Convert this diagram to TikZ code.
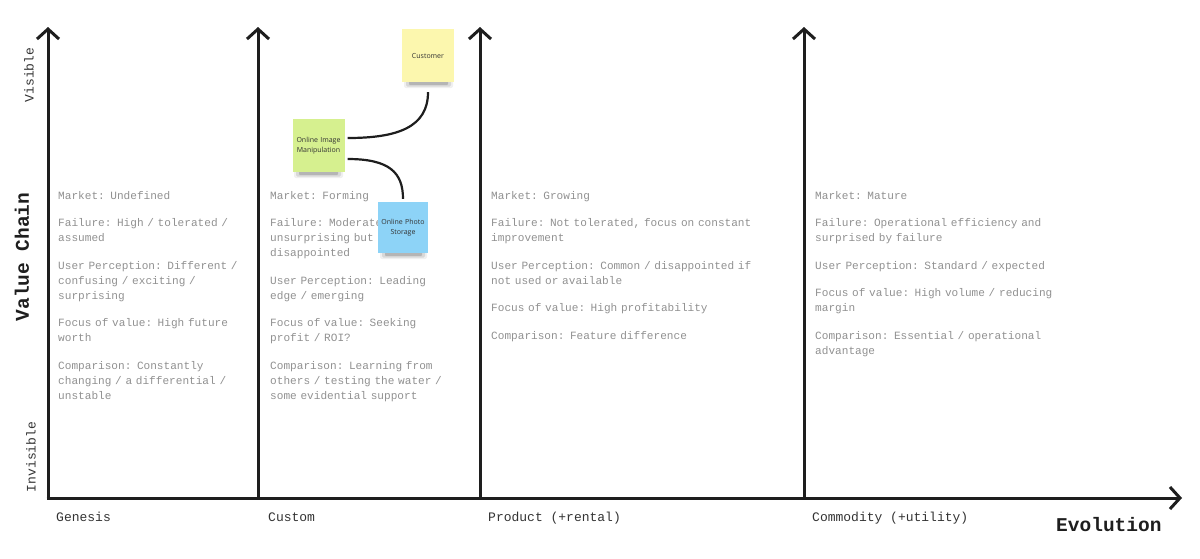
\documentclass[tikz,border=0pt]{standalone}
\usepackage{fontspec}
\setmainfont{Liberation Mono}
\newfontfamily\notefont{Open Sans}
\usetikzlibrary{arrows.meta}
\definecolor{axiscol}{HTML}{1E1E1E}
\definecolor{infocol}{HTML}{909090}
\definecolor{labcol}{HTML}{333333}
\definecolor{noteyellow}{HTML}{FCF7AE}
\definecolor{notegreen}{HTML}{D6F08F}
\definecolor{noteblue}{HTML}{8DD3F7}
\begin{document}
\begin{tikzpicture}[x=1pt,y=-1pt,
  axis/.style={line width=3pt, draw=axiscol, -{Straight Barb[length=10pt,width=22pt]}},
  info/.style={anchor=base west, inner sep=0pt, text width=330pt, align=left, text=infocol, font=\fontsize{11.1}{15}\selectfont},
  axlabel/.style={anchor=base west, inner sep=0pt, text=labcol, font=\fontsize{13}{15}\selectfont},
  sidelabel/.style={rotate=90, inner sep=0pt, text=labcol, font=\fontsize{13}{15}\selectfont},
  title/.style={inner sep=0pt, text=axiscol, font=\bfseries\fontsize{19.5}{21}\selectfont},
  sticky/.style={minimum width=52pt, minimum height=53pt, inner sep=0pt, text width=50pt, align=center, text=black!80, font=\notefont\fontsize{7}{9.5}\selectfont},
  conn/.style={line width=2.2pt, draw=axiscol},
  shadowA/.style={fill=black, opacity=0.06, rounded corners=2pt},
  shadowB/.style={fill=black, opacity=0.10, rounded corners=1.5pt},
  shadowC/.style={fill=black, opacity=0.16, rounded corners=1pt}]
\useasboundingbox (0,0) rectangle (1200,558);

% axes
\coordinate (o) at (48,498);
\coordinate (gtop) at (48,27);
\coordinate (cbot) at (258,498);
\coordinate (ctop) at (258,27);
\coordinate (pbot) at (480,498);
\coordinate (ptop) at (480,27);
\coordinate (mbot) at (804,498);
\coordinate (mtop) at (804,27);
\coordinate (xstart) at (46.5,498);
\coordinate (xend) at (1182,498);
\draw[axis] (xstart) -- (xend);
\draw[axis] (o) -- (gtop);
\draw[axis] (cbot) -- (ctop);
\draw[axis] (pbot) -- (ptop);
\draw[axis] (mbot) -- (mtop);

% axis labels
\node[sidelabel] (vis) at (29,75) {Visible};
\node[sidelabel] (invis) at (31,457) {Invisible};
\node[title, rotate=90] (vc) at (22,257) {Value Chain};
\node[title, anchor=base west] (evo) at (1056,531) {Evolution};
\node[axlabel] (gen) at (56,521) {Genesis};
\node[axlabel] (cus) at (268,521) {Custom};
\node[axlabel] (prod) at (488,521) {Product (+rental)};
\node[axlabel] (comm) at (812,521) {Commodity (+utility)};

% info columns
\node[info] (col1) at (58,199) {Market: Undefined\\[12.6pt]
Failure: High / tolerated /\\ assumed\\[12.6pt]
User Perception: Different /\\ confusing / exciting /\\ surprising\\[12.6pt]
Focus of value: High future\\ worth\\[12.6pt]
Comparison: Constantly\\ changing / a differential /\\ unstable};
\node[info] (col2) at (270,199) {Market: Forming\\[12.6pt]
Failure: Moderate /\\ unsurprising but\\ disappointed\\[12.6pt]
User Perception: Leading\\ edge / emerging\\[12.6pt]
Focus of value: Seeking\\ profit / ROI?\\[12.6pt]
Comparison: Learning from\\ others / testing the water /\\ some evidential support};
\node[info] (col3) at (491,199) {Market: Growing\\[12.6pt]
Failure: Not tolerated, focus on constant\\ improvement\\[12.6pt]
User Perception: Common / disappointed if\\ not used or available\\[12.6pt]
Focus of value: High profitability\\[12.6pt]
Comparison: Feature difference};
\node[info] (col4) at (815,199) {Market: Mature\\[12.6pt]
Failure: Operational efficiency and\\ surprised by failure\\[12.6pt]
User Perception: Standard / expected\\[12.6pt]
Focus of value: High volume / reducing\\ margin\\[12.6pt]
Comparison: Essential / operational\\ advantage};

% shadows
\fill[shadowA] (404,78) rectangle (453,88);
\fill[shadowB] (406,79) rectangle (451,86.5);
\fill[shadowC] (409,80) rectangle (448,85);
\fill[shadowA] (294,168) rectangle (343,178);
\fill[shadowB] (296,169) rectangle (341,176.5);
\fill[shadowC] (299,170) rectangle (338,175);
\fill[shadowA] (380,249) rectangle (427,259);
\fill[shadowB] (382,250) rectangle (425,257.5);
\fill[shadowC] (385,251) rectangle (422,256);

% sticky notes
\node[sticky, fill=noteyellow] (cust) at (428,55.5) {Customer};
\node[sticky, fill=notegreen] (gim) at (318.5,145.5) {Online Image\\ Manipulation};
\node[sticky, fill=noteblue, minimum width=50pt, minimum height=51pt] (ops) at (403,227.5) {Online Photo\\ Storage};

% connectors
\draw[conn] ([xshift=3pt,yshift=7.5pt]gim.east) .. controls +(50,0) and +(0,35) .. ([yshift=-10pt]cust.south);
\draw[conn] ([xshift=3pt,yshift=-13.5pt]gim.east) .. controls +(42,0) and +(0,-26) .. ([yshift=3pt]ops.north);
\end{tikzpicture}
\end{document}
